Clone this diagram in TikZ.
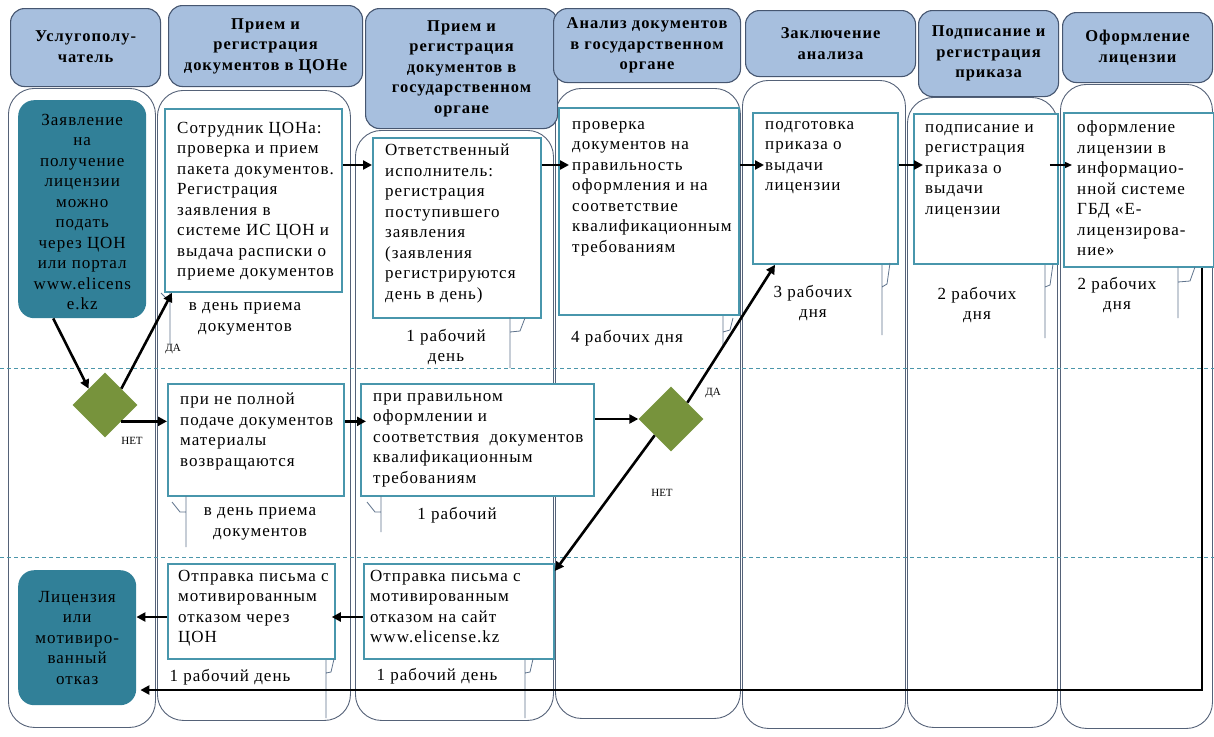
\documentclass[tikz,border=0pt]{standalone}
\usepackage{fontspec}
\setmainfont{Liberation Serif}
\newfontfamily\spacedfont{Liberation Serif}[LetterSpace=6]
\usetikzlibrary{arrows.meta,shapes.geometric}
\definecolor{hdrfill}{RGB}{167,191,222}
\definecolor{hdrdraw}{RGB}{70,86,112}
\definecolor{lanedraw}{RGB}{85,98,120}
\definecolor{tealbox}{RGB}{49,128,152}
\definecolor{procdraw}{RGB}{72,150,172}
\definecolor{dia}{RGB}{119,147,60}
\definecolor{dashc}{RGB}{75,150,170}
\definecolor{callc}{RGB}{95,115,140}
\begin{document}
\begin{tikzpicture}[x=1pt,y=-1pt,
 lane/.style={draw=lanedraw, line width=0.9pt, rounded corners=26pt, fill=white, anchor=north west, inner sep=0},
 hdr/.style={draw=hdrdraw, line width=1.1pt, fill=hdrfill, rounded corners=14pt, anchor=north west, inner sep=0},
 hdrtxt/.style={font=\spacedfont\bfseries\fontsize{16.5}{20.5}\selectfont, align=center, inner sep=0},
 pbox/.style={draw=procdraw, line width=1.8pt, fill=white, inner sep=0, anchor=north west},
 tbox/.style={fill=tealbox, rounded corners=16pt, inner sep=0, anchor=north west},
 txt/.style={font=\spacedfont\fontsize{17}{20.5}\selectfont, align=left, inner sep=0, anchor=north west},
 ctxt/.style={font=\spacedfont\fontsize{17}{20.5}\selectfont, align=center, inner sep=0},
 small/.style={font=\fontsize{11}{13}\selectfont, inner sep=0},
 dec/.style={diamond, aspect=1, fill=dia, minimum size=65pt, inner sep=0},
 arr/.style={draw=black, line width=2.6pt, -{Triangle[length=9pt,width=9pt]}},
 thinarr/.style={draw=black, line width=1.3pt, -{Triangle[length=7pt,width=6pt]}},
 call/.style={draw=callc, line width=0.8pt},
 sep/.style={draw=dashc, line width=0.9pt, dash pattern=on 4pt off 3pt}
]
\fill[white] (0,0) rectangle (1214,736);
\useasboundingbox (0,0) rectangle (1214,736);
% lanes
\node[lane, minimum width=147pt, minimum height=639pt] (l1) at (8,88) {};
\node[lane, minimum width=193pt, minimum height=630pt] (l2) at (157,90) {};
\node[lane, minimum width=198pt, minimum height=590pt] (l3) at (355,130) {};
\node[lane, minimum width=185pt, minimum height=630pt] (l4) at (555,88) {};
\node[lane, minimum width=163pt, minimum height=648pt] (l5) at (742,80) {};
\node[lane, minimum width=150pt, minimum height=630pt] (l6) at (907,97) {};
\node[lane, minimum width=152pt, minimum height=644pt] (l7) at (1060,84) {};
% headers
\node[hdr, minimum width=150pt, minimum height=78pt] (h1) at (10,8) {};
\node[hdr, minimum width=194pt, minimum height=81pt] (h2) at (168,5) {};
\node[hdr, minimum width=192pt, minimum height=120pt] (h3) at (365,8) {};
\node[hdr, minimum width=187pt, minimum height=74pt] (h4) at (553,8) {};
\node[hdr, minimum width=170pt, minimum height=66pt] (h5) at (745,10) {};
\node[hdr, minimum width=140pt, minimum height=86pt] (h6) at (918,10) {};
\node[hdr, minimum width=150pt, minimum height=70pt] (h7) at (1062,12) {};
\node[hdrtxt] (h1t) at ([yshift=1pt]h1.center) {Услугополу-\\чатель};
\node[hdrtxt] (h2t) at (h2.center) {Прием и\\регистрация\\документов в ЦОНе};
\node[hdrtxt] (h3t) at (h3.center) {Прием и\\регистрация\\документов в\\государственном\\органе};
\node[hdrtxt] (h4t) at (h4.center) {Анализ документов\\в государственном\\органе};
\node[hdrtxt] (h5t) at (h5.center) {Заключение\\анализа};
\node[hdrtxt] (h6t) at (h6.center) {Подписание и\\регистрация\\приказа};
\node[hdrtxt] (h7t) at (h7.center) {Оформление\\лицензии};
% separators
\draw[sep] (0,368) -- (1214,368);
\draw[sep] (0,557) -- (1214,557);
% boxes
\node[tbox, minimum width=128pt, minimum height=218pt] (A) at (18,100) {};
\node[ctxt] (At) at ([yshift=-3pt]A.center) {Заявление\\на\\получение\\лицензии\\можно\\подать\\через ЦОН\\или портал\\www.elicens\\e.kz};
\node[pbox, minimum width=177pt, minimum height=183pt] (B) at (164,108) {};
\node[txt] (Bt) at (177,122) {Сотрудник ЦОНа:\\проверка и прием\\пакета документов.\\Регистрация\\заявления в\\системе ИС ЦОН и\\выдача расписки о\\приеме документов};
\node[pbox, minimum width=168pt, minimum height=180pt] (C) at (372,137) {};
\node[txt] (Ct) at (385,144) {Ответственный\\исполнитель:\\регистрация\\поступившего\\заявления\\(заявления\\регистрируются\\день в день)};
\node[pbox, minimum width=180pt, minimum height=207pt] (D) at (558,107) {};
\node[txt] (Dt) at (572,121) {проверка\\документов на\\правильность\\оформления и на\\соответствие\\квалификационным\\требованиям};
\node[pbox, minimum width=145pt, minimum height=151pt] (E) at (752,112) {};
\node[txt] (Et) at (765,121) {подготовка\\приказа о\\выдачи\\лицензии};
\node[pbox, minimum width=144pt, minimum height=150pt] (F) at (913,113) {};
\node[txt] (Ft) at (925,124) {подписание и\\регистрация\\приказа о\\выдачи\\лицензии};
\node[pbox, minimum width=150pt, minimum height=154pt] (G) at (1063,112) {};
\node[txt] (Gt) at (1077,121) {оформление\\лицензии в\\информацио-\\нной системе\\ГБД «Е-\\лицензирова-\\ние»};
\node[pbox, minimum width=176pt, minimum height=112pt] (H) at (167,383) {};
\node[txt] (Ht) at (180,393) {при не полной\\подаче документов\\материалы\\возвращаются};
\node[pbox, minimum width=233pt, minimum height=112pt] (I) at (360,383) {};
\node[txt] (It) at (373,393) {при правильном\\оформлении и\\соответствия\ \ документов\\квалификационным\\требованиям};
\node[tbox, minimum width=118pt, minimum height=135pt] (J) at (18,570) {};
\node[ctxt] (Jt) at (J.center) {Лицензия\\или\\мотивиро-\\ванный\\отказ};
\node[pbox, minimum width=167pt, minimum height=95pt] (K) at (167,563) {};
\node[txt] (Kt) at (178,570) {Отправка письма с\\мотивированным\\отказом через\\ЦОН};
\node[pbox, minimum width=190pt, minimum height=95pt] (L) at (363,563) {};
\node[txt] (Lt) at (370,570) {Отправка письма с\\мотивированным\\отказом на сайт\\www.elicense.kz};
% decisions
\node[dec] (d1) at (105,405) {};
\node[dec] (d2) at (671,419) {};
% time labels
\node[ctxt] (tB) at (245,319) {в день приема\\документов};
\node[ctxt] (tC) at (446,347) {1 рабочий\\день};
\node[ctxt] (tD) at (627,338) {4 рабочих дня};
\node[ctxt] (tE) at (813,303) {3 рабочих\\дня};
\node[ctxt] (tF) at (977,305) {2 рабочих\\дня};
\node[ctxt] (tG) at (1117,295) {2 рабочих\\дня};
\node[ctxt] (tH) at (260,524) {в день приема\\документов};
\node[ctxt] (tI) at (457,515) {1 рабочий};
\node[ctxt] (tK) at (230,677) {1 рабочий день};
\node[ctxt] (tL) at (437,676) {1 рабочий день};
\node[small] (yes1) at (173,349) {ДА};
\node[small] (no1) at (132,441) {НЕТ};
\node[small] (yes2) at (713,393) {ДА};
\node[small] (no2) at (662,493) {НЕТ};
% callouts
\draw[call] (161,293) -- (170,302) (170,292) -- (170,345);
\draw[call] (510,317) -- (510,368) (510,332) -- (520,331) -- (525,318);
\draw[call] (723,316) -- (723,345) (723,332) -- (730,330) -- (733,318);
\draw[call] (882,265) -- (882,335) (882,287) -- (887,284) -- (890,263);
\draw[call] (1045,265) -- (1045,338) (1045,287) -- (1050,285) -- (1053,264);
\draw[call] (1178,267) -- (1178,318) (1178,282) -- (1190,281) -- (1195,267);
\draw[call] (186,496) -- (186,547) (172,502) -- (180,512) -- (186,512);
\draw[call] (381,496) -- (381,532) (367,502) -- (375,512) -- (381,512);
\draw[call] (326,660) -- (326,718) (326,673) -- (331,672) -- (334,659);
\draw[call] (525,660) -- (525,718) (525,673) -- (530,672) -- (533,659);
% arrows
\coordinate (r1) at (0,165);
\coordinate (r3) at (0,617);
\coordinate (fb) at (1202,690);
\draw[arr] ([xshift=-29pt]A.south) -- (d1.north west);
\draw[arr] (d1.north east) -- ([xshift=8pt]B.south west);
\draw[arr] (d1.south east) -- (H.west |- d1.south east);
\draw[arr] (B.east |- r1) -- (C.west |- r1);
\draw[arr] (C.east |- r1) -- ([xshift=11pt]D.west |- r1);
\draw[arr] (D.east |- r1) -- ([xshift=12pt]E.west |- r1);
\draw[arr] (E.east |- r1) -- ([xshift=10pt]F.west |- r1);
\draw[thinarr] ([xshift=-9pt]F.east |- r1) -- ([xshift=9pt]G.west |- r1);
\draw[arr] (H.east |- d1.south east) -- ([xshift=6pt]I.west |- d1.south east);
\draw[arr] (I.east |- d2.west) -- (d2.west);
\draw[arr] (d2.north east) -- ([xshift=23pt]E.south west);
\draw[arr] (d2.south west) -- ([yshift=-8pt]L.north east);
\draw[arr] (L.west |- r3) -- ([xshift=-4pt]K.east |- r3);
\draw[arr] (K.west |- r3) -- (J.east |- r3);
\draw[arr] (G.south -| fb) -- (fb) -- ([xshift=4pt]J.east |- fb);
\end{tikzpicture}
\end{document}
